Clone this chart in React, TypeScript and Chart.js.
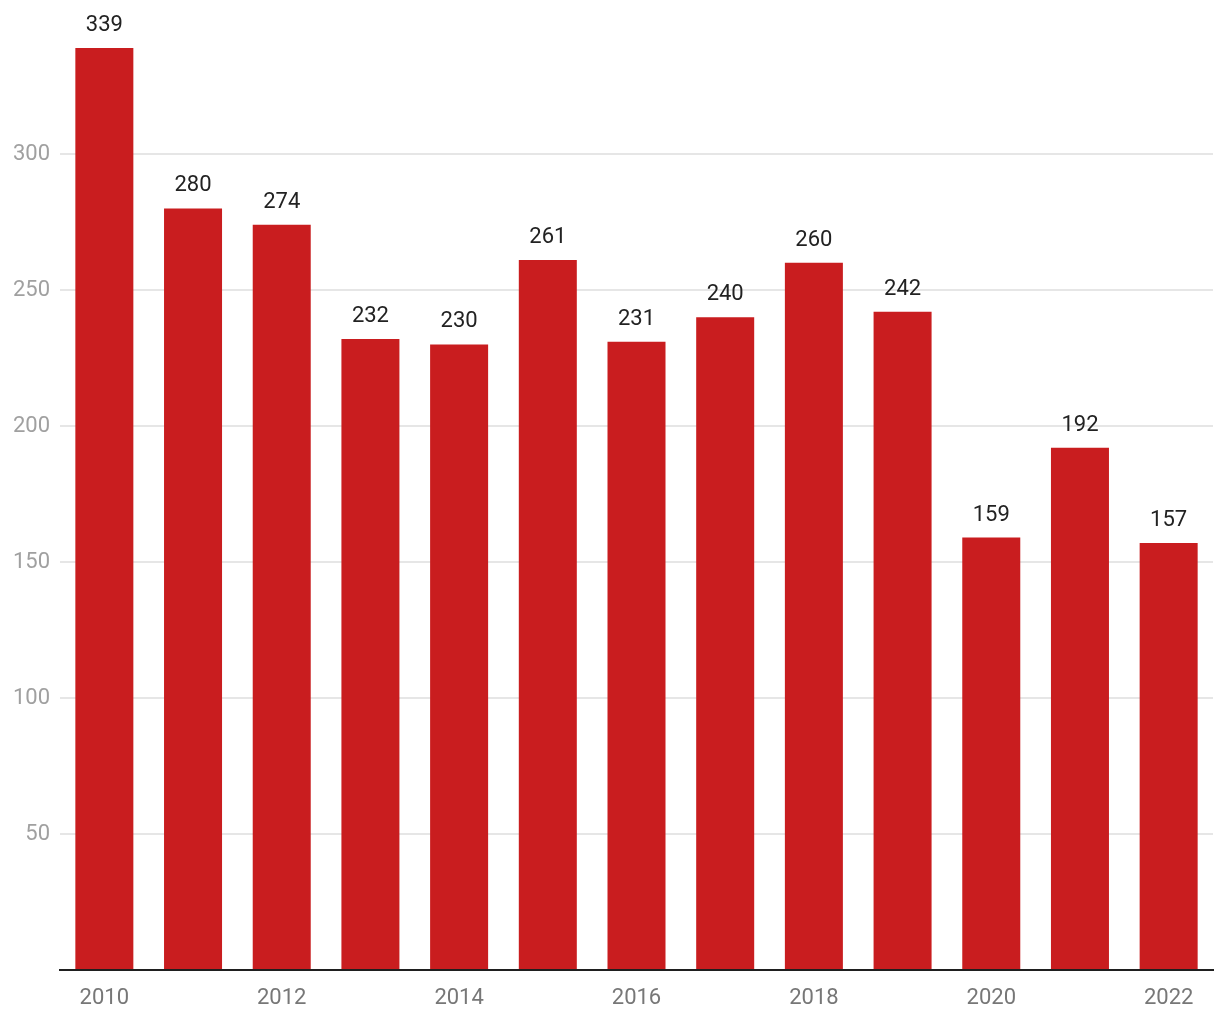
import React, { useEffect, useRef } from "react";
import { Chart, registerables } from "chart.js";

Chart.register(...registerables);

const years = ["2010", "2011", "2012", "2013", "2014", "2015", "2016", "2017", "2018", "2019", "2020", "2021", "2022"];
const values = [339, 280, 274, 232, 230, 261, 231, 240, 260, 242, 159, 192, 157];
const yMax = 350;
const yStep = 50;

const FONT = "Roboto, 'Noto Sans', sans-serif";

const dataLabelPlugin = {
  id: "dataLabels",
  afterDatasetsDraw(chart: any) {
    const ctx = chart.ctx;
    const meta = chart.getDatasetMeta(0);
    ctx.save();
    ctx.font = `22px ${FONT}`;
    ctx.fillStyle = "#222222";
    ctx.textAlign = "center";
    ctx.textBaseline = "alphabetic";
    meta.data.forEach((bar: any, i: number) => {
      ctx.fillText(String(values[i]), bar.x, bar.y - 17);
    });
    ctx.restore();
  },
};

export default function App() {
  const ref = useRef<HTMLCanvasElement>(null);
  useEffect(() => {
    if (!ref.current) return;
    const chart = new Chart(ref.current, {
      type: "bar",
      data: {
        labels: years,
        datasets: [
          {
            data: values,
            backgroundColor: "#c91d1f",
            barPercentage: 0.654,
            categoryPercentage: 1,
          },
        ],
      },
      options: {
        responsive: false,
        animation: false,
        devicePixelRatio: 1,
        layout: { padding: { top: 18, right: 7, left: 0, bottom: 0 } },
        plugins: { legend: { display: false }, tooltip: { enabled: false } },
        scales: {
          x: {
            grid: { display: false, drawTicks: false },
            border: { display: true, color: "#1f1f1f", width: 2 },
            ticks: {
              autoSkip: false,
              maxRotation: 0,
              padding: 15,
              color: "#777777",
              font: { family: FONT, size: 22 },
              callback: (_v: any, i: number) => (i % 2 === 0 ? years[i] : ""),
            },
            afterFit: (s: any) => {
              s.height = 50;
            },
          },
          y: {
            min: 0,
            max: yMax,
            border: { display: false },
            grid: {
              drawTicks: false,
              lineWidth: 2,
              color: (c: any) =>
                c.tick && (c.tick.value === 0 || c.tick.value === yMax) ? "rgba(0,0,0,0)" : "#e6e6e6",
            },
            ticks: {
              stepSize: yStep,
              padding: 10,
              color: "#a0a0a0",
              font: { family: FONT, size: 22, lineHeight: 0.6 },
              callback: (v: any) => (v === 0 || v === yMax ? "" : String(v)),
            },
            afterFit: (s: any) => {
              s.width = 60;
            },
          },
        },
      },
      plugins: [dataLabelPlugin],
    });
    return () => chart.destroy();
  }, []);
  return (
    <div style={{ position: "absolute", left: 0, top: 0, width: 1220, height: 1020, background: "#fff" }}>
      <canvas ref={ref} width={1220} height={1020} />
    </div>
  );
}
